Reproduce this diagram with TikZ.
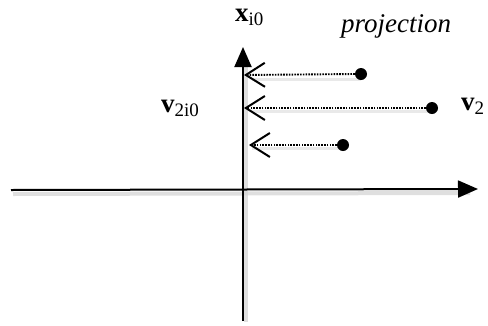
\documentclass[tikz,border=0pt]{standalone}
\usepackage{fontspec}
\setmainfont{Liberation Serif}
\usetikzlibrary{arrows.meta}
\newcommand{\subsz}{\fontsize{19}{20}\selectfont}
\begin{document}
\begin{tikzpicture}[x=1pt,y=-1pt,
  axis/.style={line width=2pt,-{Triangle[length=20pt,width=17pt]}},
  proj/.style={line width=1.9pt,dash pattern=on 1.6pt off 1.2pt,
    -{Straight Barb[length=19pt,width=24pt,line width=2pt]}},
  pt/.style={circle,fill=black,inner sep=0pt,minimum size=12pt},
  lbl/.style={inner sep=0pt,text height=14pt,text depth=0pt,font=\fontsize{27}{28}\selectfont},
  shadow/.style={line width=4pt,draw=black!18,opacity=0.7}]
\useasboundingbox (0,0) rectangle (488,325);
% shadows
\draw[shadow] (13,194) -- (470,193);
\draw[shadow] (246,60) -- (246,322);
\foreach \y/\x in {79/361,111/432,148/343}{\draw[shadow,line width=3pt,draw=black!12] (252,\y) -- (\x,\y);}
% coordinates
\coordinate (hl) at (11,190);
\coordinate (hr) at (478,189);
\coordinate (vb) at (243,321);
\coordinate (vt) at (243,47);
\coordinate (t1) at (244,75);
\coordinate (t2) at (244,108);
\coordinate (t3) at (249,145);
% points
\node[pt] (p1) at (361,74) {};
\node[pt] (p2) at (432,108) {};
\node[pt] (p3) at (343,145) {};
% axes
\draw[axis] (hl) -- (hr);
\draw[axis] (vb) -- (vt);
% projections
\draw[proj] (p1.west) -- (t1);
\draw[proj] (p2.west) -- (t2);
\draw[proj] (p3.west) -- (t3);
% labels
\node[lbl,anchor=base west] (lx) at (235,21) {\textbf{x}\raisebox{-4pt}{\subsz i0}};
\node[lbl,anchor=base west] (lp) at (341,32) {\textit{projection}};
\node[lbl,anchor=base west] (lv2) at (461,110) {\textbf{v}\raisebox{-4pt}{\subsz 2}};
\node[lbl,anchor=base west] (lv) at (161,112) {\textbf{v}\raisebox{-4pt}{\subsz 2i0}};
\end{tikzpicture}
\end{document}
